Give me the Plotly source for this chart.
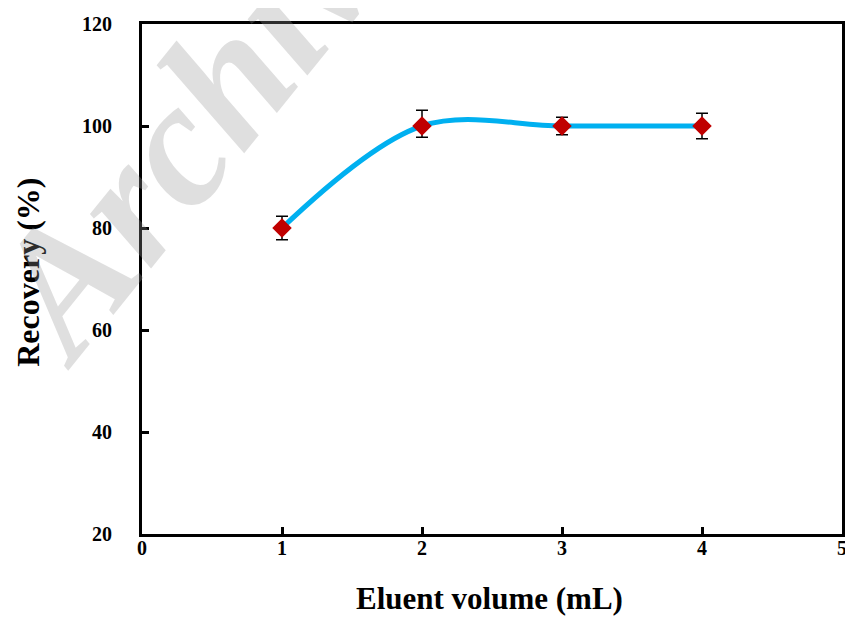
import plotly.graph_objects as go

volume = [1, 2, 3, 4]
recovery = [80, 100, 100, 100]
err_plus = [2.3, 3.1, 1.7, 2.5]
err_minus = [2.3, 2.2, 1.7, 2.5]
x_ticks = [0, 1, 2, 3, 4, 5]
y_ticks = [20, 40, 60, 80, 100, 120]

serif = "Liberation Serif, Times New Roman, serif"

fig = go.Figure()
fig.add_trace(go.Scatter(
    x=volume, y=recovery, mode="lines",
    line=dict(color="#00B0F0", width=5, shape="spline", smoothing=1),
    hoverinfo="skip", showlegend=False))
fig.add_trace(go.Scatter(
    x=volume, y=recovery, mode="markers",
    marker=dict(symbol="diamond", size=15, color="#C00000"),
    error_y=dict(type="data", symmetric=False, array=err_plus, arrayminus=err_minus,
                 color="black", thickness=1.5, width=6),
    showlegend=False))

axis_common = dict(ticks="inside", ticklen=7, tickwidth=2.5, tickcolor="black",
                   showline=True, linecolor="black", linewidth=3, mirror=True,
                   showgrid=False, zeroline=False, automargin=False,
                   ticklabeloverflow="allow",
                   tickfont=dict(size=20, family=serif, weight="bold"))

# the page body keeps its default 8px margin, so the figure is drawn 8px smaller
# and shifted; the plot area then sits at x 142..842, y 24..534 of the window
fig.update_layout(
    width=845, height=630,
    margin=dict(l=134, r=11, t=16, b=104),
    plot_bgcolor="white", paper_bgcolor="white",
    font=dict(family=serif, color="black"),
    xaxis=dict(range=[0, 5], tickvals=x_ticks, ticklabelstandoff=-6, **axis_common),
    yaxis=dict(range=[20, 120], tickvals=y_ticks, ticklabelstandoff=23, **axis_common),
)

fig.add_annotation(text="<b>Eluent volume (mL)</b>", xref="paper", yref="paper",
                   x=0.497, y=-0.1255, xanchor="center", yanchor="middle",
                   showarrow=False, font=dict(size=31, family=serif, color="black"))
fig.add_annotation(text="<b>Recovery (%)</b>", xref="paper", yref="paper",
                   x=-0.163, y=0.514, xanchor="center", yanchor="middle", textangle=-90,
                   showarrow=False, font=dict(size=32, family=serif, color="black"))

fig.add_annotation(
    text="<b><i>Archive of SID</i></b>", xref="paper", yref="paper",
    x=0.33, y=1.245, xanchor="center", yanchor="middle",
    textangle=-51, showarrow=False,
    font=dict(family=serif, size=178, color="rgba(150,150,150,0.3)"))

fig.write_html("out.html")
